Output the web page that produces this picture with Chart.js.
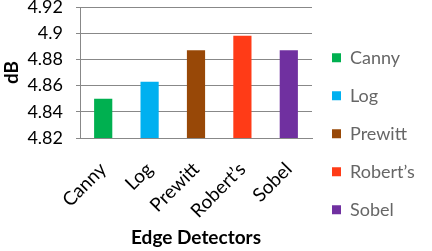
<!DOCTYPE html>
<html>
<head>
<meta charset="utf-8">
<script src="https://cdn.jsdelivr.net/npm/chart.js@4/dist/chart.umd.min.js"></script>
<style>
  html, body { margin: 0; padding: 0; background: #fff; }
  #wrap { width: 432px; height: 251px; }
</style>
</head>
<body>
<div id="wrap"><canvas id="chart"></canvas></div>
<script>
'use strict';
// values
var detectors = ['Canny', 'Log', 'Prewitt', 'Robert\u2019s', 'Sobel'];
var dbValues = [4.850, 4.863, 4.887, 4.898, 4.887];
var barColors = ['#00B050', '#00B0F0', '#984807', '#FF3B17', '#7030A0'];
var yTicks = [4.82, 4.84, 4.86, 4.88, 4.9, 4.92];

var font = 'Lato, "Open Sans", sans-serif';

var chart = new Chart(document.getElementById('chart'), {
  type: 'bar',
  data: {
    labels: detectors,
    datasets: [{
      label: 'dB',
      data: dbValues,
      backgroundColor: barColors,
      categoryPercentage: 0.8,
      barPercentage: 0.49
    }]
  },
  options: {
    responsive: true,
    maintainAspectRatio: false,
    animation: false,
    layout: { padding: { top: 7, right: 1, left: 0, bottom: 0 } },
    plugins: {
      tooltip: { enabled: false },
      legend: {
        position: 'right',
        // empty title only nudges the legend column down a little
        title: { display: true, text: ' ', padding: 0, font: { size: 8 } },
        labels: {
          color: '#000',
          font: { family: font, size: 18 },
          boxWidth: 9,
          boxHeight: 9,
          padding: 20,
          generateLabels: function (c) {
            return c.data.labels.map(function (l, i) {
              return {
                text: l,
                fillStyle: barColors[i],
                strokeStyle: barColors[i],
                lineWidth: 0,
                index: i
              };
            });
          }
        }
      }
    },
    scales: {
      x: {
        grid: { display: false, drawTicks: false },
        border: { color: '#888', width: 1 },
        ticks: {
          color: '#000',
          font: { family: font, size: 19 },
          minRotation: 45,
          maxRotation: 45,
          padding: 20
        },
        title: {
          display: true,
          text: 'Edge Detectors',
          color: '#000',
          font: { family: font, size: 19, weight: 'bold' },
          padding: { top: 4, bottom: 2 }
        },
        afterFit: function (s) {
          s.height = 113;
          s.paddingRight = 120;
        }
      },
      y: {
        min: 4.82,
        max: 4.92,
        afterBuildTicks: function (s) {
          s.ticks = yTicks.map(function (v) { return { value: v }; });
        },
        grid: { color: '#888', lineWidth: 1, tickLength: 4 },
        border: { color: '#888', width: 1 },
        ticks: {
          color: '#000',
          font: { family: font, size: 18 },
          padding: 13,
          autoSkip: false,
          callback: function (v) { return String(Math.round(v * 100) / 100); }
        },
        title: {
          display: true,
          text: 'dB',
          color: '#000',
          font: { family: font, size: 19, weight: 'bold' },
          padding: { top: 0, bottom: 4 }
        },
        afterFit: function (s) {
          s.width = 80;
          s.paddingTop = 0;
          s.paddingBottom = 0;
        }
      }
    }
  }
});
</script>
</body>
</html>
